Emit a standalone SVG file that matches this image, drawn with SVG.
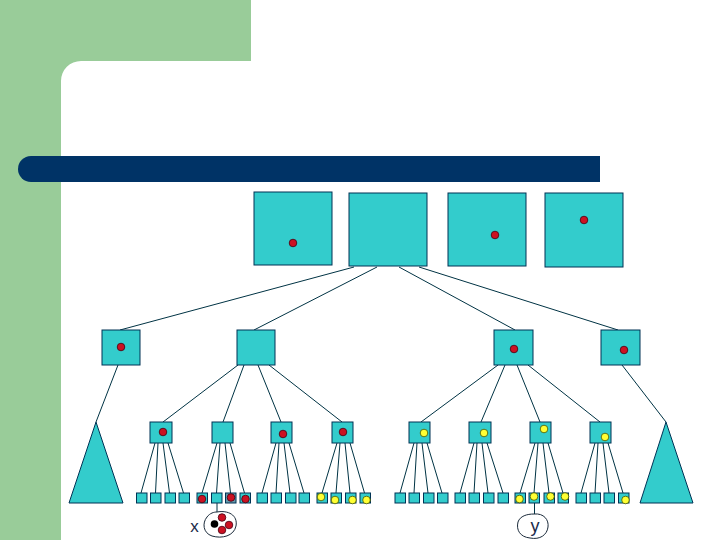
<svg xmlns="http://www.w3.org/2000/svg" width="720" height="540" viewBox="0 0 720 540">
<style>
.box{fill:#33CCCC;stroke:#003355;stroke-width:1}
.red{fill:#CC1122;stroke:#440011;stroke-width:0.8}
.yel{fill:#FFFF33;stroke:#445500;stroke-width:0.8}
.blk{fill:#000000}
.ln{stroke:#003344;stroke-width:1;fill:none}
.lbl{font-family:"Liberation Sans",Arial,sans-serif;fill:#1a2a4a}
</style>
<rect x="0" y="0" width="720" height="540" fill="#FFFFFF"/>
<path d="M0 0 H251 V61 H81 A20 20 0 0 0 61 81 V540 H0 Z" fill="#99CC99"/>
<path d="M31 156 H600 V182 H31 A13 13 0 0 1 31 156 Z" fill="#003366"/>

<g id="connectors">
<line class="ln" x1="354" y1="267" x2="120" y2="330"/>
<line class="ln" x1="377" y1="267" x2="254" y2="330"/>
<line class="ln" x1="399" y1="267" x2="515" y2="330"/>
<line class="ln" x1="419" y1="267" x2="618" y2="330"/>
<line class="ln" x1="118" y1="365" x2="96" y2="422"/>
<line class="ln" x1="622" y1="365" x2="666" y2="422"/>
<line class="ln" x1="238" y1="365" x2="163" y2="422"/>
<line class="ln" x1="244" y1="365" x2="223" y2="422"/>
<line class="ln" x1="258" y1="365" x2="281" y2="422"/>
<line class="ln" x1="269" y1="365" x2="342" y2="422"/>
<line class="ln" x1="498" y1="365" x2="421" y2="422"/>
<line class="ln" x1="505" y1="365" x2="481" y2="422"/>
<line class="ln" x1="517" y1="365" x2="540" y2="422"/>
<line class="ln" x1="528" y1="365" x2="600" y2="422"/>
<!-- leaf lines -->
<path class="ln" d="M155 443 L141 493 M158 443 L155.5 493 M163 443 L169.5 493 M168 443 L183.5 493"/>
<path class="ln" d="M217 443 L202 493 M220 443 L216.5 493 M225 443 L230.5 493 M230 443 L244.5 493"/>
<path class="ln" d="M276 443 L262 493 M279 443 L276 493 M284 443 L290 493 M289 443 L304 493"/>
<path class="ln" d="M337 443 L322 493 M340 443 L336 493 M345 443 L350 493 M350 443 L364.5 493"/>
<path class="ln" d="M414 443 L400 493 M417 443 L414 493 M422 443 L428 493 M427 443 L442 493"/>
<path class="ln" d="M474 443 L460 493 M477 443 L474 493 M482 443 L488 493 M487 443 L503 493"/>
<path class="ln" d="M535 443 L520 493 M538 443 L534 493 M543 443 L549 493 M548 443 L563 493"/>
<path class="ln" d="M595 443 L581 493 M598 443 L595 493 M603 443 L609 493 M608 443 L623 493"/>
<line class="ln" x1="217" y1="503" x2="217" y2="512"/>
<line class="ln" x1="534.5" y1="503" x2="534.5" y2="514"/>
</g>

<g id="top1"><rect class="box" x="254" y="192" width="78" height="73"/><circle class="red" cx="293" cy="243" r="3.8"/></g>
<g id="top2"><rect class="box" x="349" y="193" width="78" height="73"/></g>
<g id="top3"><rect class="box" x="448" y="193" width="78" height="73"/><circle class="red" cx="495" cy="235" r="3.8"/></g>
<g id="top4"><rect class="box" x="545" y="193" width="78" height="74"/><circle class="red" cx="584" cy="220" r="3.8"/></g>

<g id="mA"><rect class="box" x="102" y="330" width="38" height="35"/><circle class="red" cx="121" cy="347" r="3.8"/></g>
<g id="mB"><rect class="box" x="237" y="330" width="38" height="35"/></g>
<g id="mC"><rect class="box" x="494" y="330" width="39" height="35"/><circle class="red" cx="514" cy="349" r="3.8"/></g>
<g id="mD"><rect class="box" x="601" y="330" width="39" height="35"/><circle class="red" cx="624" cy="350" r="3.8"/></g>

<g id="triL"><polygon class="box" points="96,422 69,503 123,503"/></g>
<g id="triR"><polygon class="box" points="666,422 640,503 693,503"/></g>

<g id="n1"><rect class="box" x="150" y="422" width="22" height="21"/><circle class="red" cx="163" cy="432" r="3.8"/></g>
<g id="n2"><rect class="box" x="212" y="422" width="21" height="21"/></g>
<g id="n3"><rect class="box" x="271" y="422" width="21" height="21"/><circle class="red" cx="283" cy="434" r="3.8"/></g>
<g id="n4"><rect class="box" x="332" y="422" width="21" height="21"/><circle class="red" cx="343" cy="432" r="3.8"/></g>
<g id="n5"><rect class="box" x="409" y="422" width="21" height="21"/><circle class="yel" cx="424" cy="433" r="3.8"/></g>
<g id="n6"><rect class="box" x="469" y="422" width="22" height="21"/><circle class="yel" cx="484" cy="433" r="3.8"/></g>
<g id="n7"><rect class="box" x="530" y="422" width="21" height="21"/><circle class="yel" cx="544" cy="429" r="3.8"/></g>
<g id="n8"><rect class="box" x="590" y="422" width="21" height="21"/><circle class="yel" cx="605" cy="437" r="3.8"/></g>

<g id="leaves1"><rect class="box" x="136.5" y="493" width="10.5" height="10"/><rect class="box" x="150.5" y="493" width="10.5" height="10"/><rect class="box" x="165" y="493" width="10.5" height="10"/><rect class="box" x="179" y="493" width="10.5" height="10"/></g>
<g id="leaves2"><rect class="box" x="197" y="493" width="10.5" height="10"/><circle class="red" cx="202" cy="499" r="3.8"/><rect class="box" x="211.5" y="493" width="10.5" height="10"/><rect class="box" x="225.5" y="493" width="10.5" height="10" style="fill:#6699AA"/><circle class="red" cx="231" cy="497.5" r="3.8"/><rect class="box" x="240" y="493" width="10.5" height="10"/><circle class="red" cx="245.5" cy="499" r="3.8"/></g>
<g id="leaves3"><rect class="box" x="257" y="493" width="10.5" height="10"/><rect class="box" x="271" y="493" width="10.5" height="10"/><rect class="box" x="285.5" y="493" width="10.5" height="10"/><rect class="box" x="299" y="493" width="10.5" height="10"/></g>
<g id="leaves4"><rect class="box" x="317" y="493" width="10.5" height="10"/><circle class="yel" cx="321" cy="497" r="3.8"/><rect class="box" x="331" y="493" width="10.5" height="10"/><circle class="yel" cx="335" cy="500" r="3.8"/><rect class="box" x="345.5" y="493" width="10.5" height="10"/><circle class="yel" cx="352.5" cy="500" r="3.8"/><rect class="box" x="360" y="493" width="10.5" height="10"/><circle class="yel" cx="366.5" cy="500" r="3.8"/></g>
<g id="leaves5"><rect class="box" x="395" y="493" width="10.5" height="10"/><rect class="box" x="409" y="493" width="10.5" height="10"/><rect class="box" x="423.5" y="493" width="10.5" height="10"/><rect class="box" x="437.5" y="493" width="10.5" height="10"/></g>
<g id="leaves6"><rect class="box" x="455" y="493" width="10.5" height="10"/><rect class="box" x="469" y="493" width="10.5" height="10"/><rect class="box" x="483.5" y="493" width="10.5" height="10"/><rect class="box" x="498" y="493" width="10.5" height="10"/></g>
<g id="leaves7"><rect class="box" x="515" y="493" width="10.5" height="10"/><circle class="yel" cx="519.5" cy="499" r="3.8"/><rect class="box" x="529" y="493" width="10.5" height="10"/><circle class="yel" cx="534" cy="496.5" r="3.8"/><rect class="box" x="544" y="493" width="10.5" height="10"/><circle class="yel" cx="550.5" cy="496.5" r="3.8"/><rect class="box" x="558" y="493" width="10.5" height="10"/><circle class="yel" cx="565" cy="496.5" r="3.8"/></g>
<g id="leaves8"><rect class="box" x="576" y="493" width="10.5" height="10"/><rect class="box" x="590" y="493" width="10.5" height="10"/><rect class="box" x="604" y="493" width="10.5" height="10"/><rect class="box" x="618.5" y="493" width="10.5" height="10"/><circle class="yel" cx="625.5" cy="500" r="3.8"/></g>

<g id="xset">
<path d="M217 512 C228 510 238 515 236 526 C234 536 222 539 212 536 C203 533 202 523 207 517 C210 513 214 512 217 512 Z" fill="#FFFFFF" stroke="#1a2a3a" stroke-width="1"/>
<circle class="blk" cx="214.5" cy="524" r="3.8"/>
<circle class="red" cx="222" cy="517.5" r="3.8"/>
<circle class="red" cx="229" cy="525" r="3.8"/>
<circle class="red" cx="222" cy="530" r="3.8"/>
<text class="lbl" x="194.5" y="532" font-size="17" text-anchor="middle">x</text>
</g>
<g id="yset">
<path d="M534 514 C544 513 549 520 548 527 C547 535 540 540 530 538 C520 537 516 530 518 522 C520 516 527 514 534 514 Z" fill="#FFFFFF" stroke="#1a2a3a" stroke-width="1"/>
<text class="lbl" x="535" y="532" font-size="18" text-anchor="middle">y</text>
</g>
</svg>
